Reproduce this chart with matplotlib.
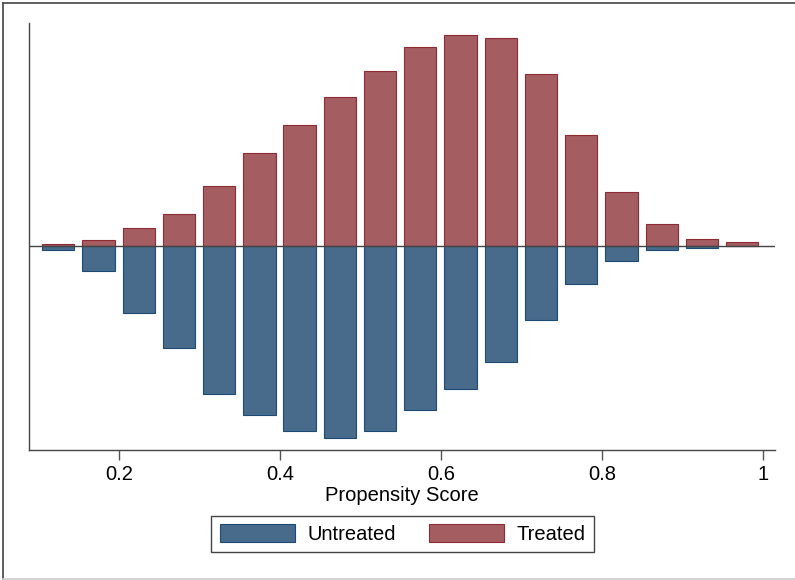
import matplotlib
matplotlib.use("Agg")
import matplotlib.pyplot as plt
from matplotlib.patches import Patch
from matplotlib.lines import Line2D
import numpy as np

plt.rcParams['font.family'] = ['Liberation Sans', 'DejaVu Sans']

# bin centers (propensity score)
bin_centers = [0.1245 + 0.05 * k for k in range(18)]
bar_width = 0.0402
# treated counts (above axis) and untreated counts (below axis), arbitrary units
treated = [1.3, 5.7, 18, 31.4, 59.7, 92.4, 120.4, 149, 174.7, 198.4, 210.7,
           207.4, 172, 111, 54, 21.7, 6.7, 3.4]
untreated = [4.7, 25, 67, 102.7, 148.7, 169.7, 185, 192.7, 185, 164, 143.4,
             116.4, 74, 38.7, 15, 4, 2, 0]
xticks = [0.2, 0.4, 0.6, 0.8, 1.0]
xticklabels = ["0.2", "0.4", "0.6", "0.8", "1"]
labels = ["Untreated", "Treated"]

blue_fill = "#486b8c"
blue_edge = "#1d4a73"
red_fill = "#a45d61"
red_edge = "#8e2a33"
FS = 14.5

fig = plt.figure(figsize=(7.95, 5.8), dpi=100)
ax = fig.add_axes([29 / 795, 1 - 450 / 580, (775 - 29) / 795, (450 - 23) / 580])

ax.bar(bin_centers, treated, width=bar_width, color=red_fill, edgecolor=red_edge,
       linewidth=0.8, zorder=2)
ax.bar(bin_centers, [-u for u in untreated], width=bar_width, color=blue_fill,
       edgecolor=blue_edge, linewidth=0.8, zorder=2)
ax.axhline(0, color="#444444", linewidth=1.0, zorder=3)

ax.set_xlim(0.0882, 1.0153)
ax.set_ylim(-204.5, 222.5)
ax.set_xticks(xticks)
ax.set_xticklabels(xticklabels, fontsize=FS)
ax.set_yticks([])
ax.tick_params(axis='x', length=7, width=1, color="#555555", pad=4)
for s in ["top", "right"]:
    ax.spines[s].set_visible(False)
for s in ["left", "bottom"]:
    ax.spines[s].set_color("#444444")
    ax.spines[s].set_linewidth(1.0)
ax.set_xlabel("Propensity Score", fontsize=FS, labelpad=1)

handles = [Patch(facecolor=blue_fill, edgecolor=blue_edge, linewidth=0.8),
           Patch(facecolor=red_fill, edgecolor=red_edge, linewidth=0.8)]
leg = fig.legend(handles, labels, loc="center", bbox_to_anchor=(402.5 / 795, 1 - 534 / 580),
                 ncol=2, fontsize=FS, handlelength=3.75, handleheight=1.0,
                 handletextpad=0.6, columnspacing=1.65, fancybox=False,
                 edgecolor="#444444", framealpha=1, borderpad=0.4)
leg.get_frame().set_linewidth(1.0)

# outer frame
fig.add_artist(Line2D([2.5 / 795, 1], [1 - 3 / 580, 1 - 3 / 580], color="#444444", linewidth=1.2,
                      transform=fig.transFigure))
fig.add_artist(Line2D([2.5 / 795, 2.5 / 795], [1 / 580, 1 - 3 / 580], color="#444444", linewidth=1.2,
                      transform=fig.transFigure))
fig.add_artist(Line2D([2.5 / 795, 1], [1 / 580, 1 / 580], color="#cccccc", linewidth=1.2,
                      transform=fig.transFigure))

fig.savefig("out.png", dpi=100)
